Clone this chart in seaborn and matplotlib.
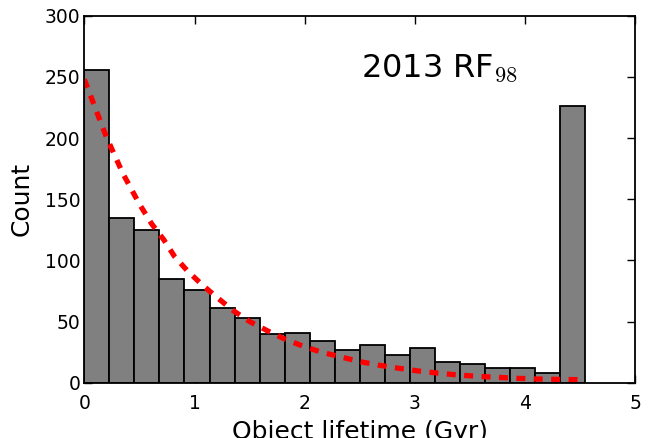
import numpy as np
import pandas as pd
import matplotlib
matplotlib.use("Agg")
import matplotlib.pyplot as plt
import seaborn as sns

# ---- data ----
bin_counts = [256, 135, 125, 85, 76, 61, 53, 40, 41, 34,
              27, 31, 23, 28, 17, 15, 12, 12, 8, 226]
n_bins = 20
lifetime_max = 4.545          # upper edge of the last bin (Gyr)

curve_x = [0.0, 0.14, 0.20, 0.35, 0.50, 0.61, 0.72, 0.82, 0.94, 1.07, 1.20,
           1.35, 1.50, 1.66, 1.81, 1.98, 2.15, 2.33, 2.50, 2.68, 2.86,
           3.03, 3.21, 3.39, 3.57, 3.74, 3.92, 4.10, 4.29, 4.46, 4.50]
curve_y = [248, 215, 201, 171, 146, 130, 117, 103, 91, 80, 70,
           59, 50, 42.5, 36, 30, 25, 21, 17.2, 14.2, 11.7,
           9.6, 7.8, 6.3, 5.2, 4.4, 3.6, 3.0, 2.7, 2.5, 2.4]

x_ticks = [0, 1, 2, 3, 4, 5]
y_ticks = [0, 50, 100, 150, 200, 250, 300]
label_text = "2013 RF$_{98}$"

# ---- plotting ----
sns.set_style("ticks")
plt.rcParams["font.family"] = ["DejaVu Sans"]
plt.rcParams["mathtext.fontset"] = "cm"
plt.rcParams["text.color"] = "black"
plt.rcParams["axes.labelcolor"] = "black"
plt.rcParams["xtick.color"] = "black"
plt.rcParams["ytick.color"] = "black"

fig = plt.figure(figsize=(6.5, 4.38), dpi=100)
ax = fig.add_axes([0.1297, 0.1263, 0.8477, 0.8379])

binw = lifetime_max / n_bins
centers = (np.arange(n_bins) + 0.5) * binw
df = pd.DataFrame({"lifetime": centers, "count": bin_counts})

sns.histplot(data=df, x="lifetime", weights="count", binwidth=binw,
             binrange=(0, lifetime_max),
             color="#808080", alpha=1.0, edgecolor="black", linewidth=1.3,
             ax=ax)

cdf = pd.DataFrame({"x": curve_x, "y": curve_y})
sns.lineplot(data=cdf, x="x", y="y", color="red", linewidth=3.8,
             linestyle=(0, (1.7, 1.6)), ax=ax, sort=True)

ax.set_xlim(0, 5)
ax.set_ylim(0, 300)
ax.set_xticks(x_ticks)
ax.set_yticks(y_ticks)
ax.tick_params(direction="in", top=True, right=True, length=6, width=1,
               labelsize=13.5, colors="black", labelcolor="black")
ax.tick_params(axis="x", pad=8)
ax.tick_params(axis="y", pad=3)
for s in ax.spines.values():
    s.set_linewidth(1.3)
    s.set_color("black")

ax.set_xlabel("Object lifetime (Gyr)", fontsize=18, labelpad=5, color="black")
ax.set_ylabel("Count", fontsize=18, labelpad=8, color="black")

ax.text(0.503, 0.834, label_text, transform=ax.transAxes, fontsize=23,
        va="baseline", ha="left", color="black")

fig.savefig("out.png", dpi=100)
